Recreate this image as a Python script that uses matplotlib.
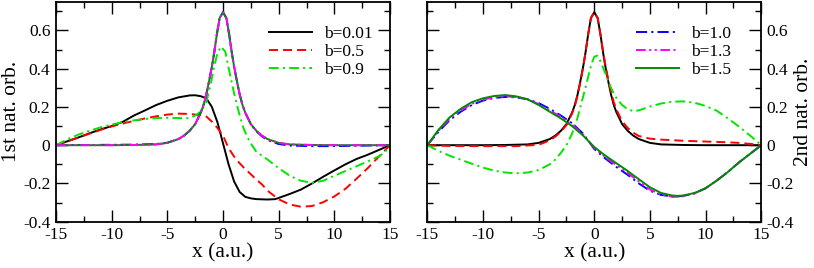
import numpy as np
import matplotlib
matplotlib.use("Agg")
import matplotlib.pyplot as plt
from matplotlib.ticker import MultipleLocator, FuncFormatter

plt.rcParams['font.family'] = ['Liberation Serif', 'DejaVu Serif']
plt.rcParams['axes.unicode_minus'] = False
plt.rcParams['lines.scale_dashes'] = False

# ---- valeurs ----
# pic symétrique (orbitale paire), partagé par plusieurs courbes
x_peak = [-15, -10, -8, -6, -5, -4, -3.5, -3, -2.5, -2, -1.75, -1.5, -1.25, -1, -0.8, -0.55, -0.3, 0,
          0.3, 0.55, 0.8, 1, 1.25, 1.5, 1.75, 2, 2.5, 3, 3.5, 4, 5, 6, 8, 10, 15]
y_peak = [0, 0, 0.001, 0.004, 0.012, 0.032, 0.05, 0.075, 0.11, 0.17, 0.21, 0.265, 0.335, 0.41, 0.48, 0.58, 0.665, 0.695,
          0.665, 0.58, 0.48, 0.41, 0.335, 0.265, 0.21, 0.17, 0.11, 0.075, 0.05, 0.032, 0.012, 0.004, 0.001, 0, 0]
y_peak_blue = [0, 0.002, 0.003, 0.006, 0.013, 0.032, 0.05, 0.075, 0.11, 0.17, 0.21, 0.265, 0.335, 0.41, 0.48, 0.58, 0.665, 0.695,
               0.665, 0.58, 0.48, 0.41, 0.335, 0.265, 0.21, 0.17, 0.11, 0.072, 0.046, 0.027, 0.006, -0.002, -0.005, -0.005, 0]

# 1ere orbitale naturelle (panneau gauche)
x1_b001 = [-15, -14, -13, -12, -11, -10, -9, -8, -7, -6, -5, -4, -3, -2.5, -2, -1.5, -1, -0.5, 0, 0.5,
           1, 1.5, 2, 2.5, 3, 4, 4.7, 6, 7, 8, 9, 10, 11, 12, 13, 14, 15]
y1_b001 = [0, 0.02, 0.04, 0.062, 0.082, 0.1, 0.122, 0.155, 0.182, 0.21, 0.232, 0.25, 0.26, 0.261, 0.256, 0.245, 0.2, 0.12, 0.01, -0.1,
           -0.19, -0.245, -0.27, -0.278, -0.282, -0.284, -0.282, -0.255, -0.232, -0.2, -0.165, -0.132, -0.1, -0.072, -0.05, -0.025, 0]

x1_b05 = [-15, -14, -13, -12, -11, -10, -9, -8, -7, -6, -5, -4, -3, -2, -1.5, -1, -0.5, 0, 0.5, 1,
          1.5, 2, 2.5, 3, 3.5, 4, 5, 6, 7, 8, 9, 10, 11, 12, 13, 14, 15]
y1_b05 = [0, 0.02, 0.04, 0.06, 0.08, 0.098, 0.113, 0.127, 0.14, 0.151, 0.16, 0.165, 0.163, 0.157, 0.15, 0.123, 0.09, 0.05, -0.015, -0.06,
          -0.095, -0.125, -0.152, -0.18, -0.205, -0.238, -0.283, -0.31, -0.322, -0.318, -0.298, -0.268, -0.228, -0.175, -0.12, -0.06, 0]

x1_b09 = [-15, -14, -13, -12, -11, -10, -9, -8, -7, -6, -5, -4, -3.5, -3, -2.5, -2, -1.5, -1.1, -0.8, -0.5, -0.2,
          0.2, 0.5, 1, 1.4, 1.8, 2.2, 2.6, 3, 4, 5, 6, 7, 8, 9, 10, 11, 12, 13, 14, 14.5, 15]
y1_b09 = [0, 0.03, 0.055, 0.075, 0.093, 0.108, 0.12, 0.13, 0.137, 0.142, 0.143, 0.142, 0.14, 0.142, 0.155, 0.175, 0.225, 0.32, 0.41, 0.48, 0.515,
          0.49, 0.404, 0.27, 0.177, 0.095, 0.04, 0.0, -0.035, -0.075, -0.12, -0.16, -0.186, -0.197, -0.186, -0.16, -0.135, -0.11, -0.085, -0.058, -0.04, 0]

# 2eme orbitale naturelle (panneau droit)
x2_b05 = [-15, -13, -10, -7, -5, -4, -3.5, -3, -2.5, -2, -1.75, -1.5, -1.25, -1, -0.8, -0.55, -0.3, 0,
          0.3, 0.55, 0.8, 1, 1.25, 1.5, 1.75, 2, 2.5, 3, 3.5, 4, 5, 6, 8, 10, 12, 13, 14, 15]
y2_b05 = [0, -0.004, -0.005, -0.005, 0.002, 0.025, 0.045, 0.07, 0.105, 0.165, 0.205, 0.26, 0.33, 0.41, 0.48, 0.58, 0.665, 0.695,
          0.665, 0.58, 0.485, 0.415, 0.345, 0.28, 0.225, 0.185, 0.125, 0.09, 0.065, 0.048, 0.034, 0.029, 0.023, 0.019, 0.015, 0.012, 0.007, 0]

x2_b09 = [-15, -14, -13, -12, -11, -10, -9, -8, -7, -6, -5, -4, -3.5, -3, -2.5, -2, -1.5, -1.25, -1, -0.75, -0.5, -0.25, 0,
          0.25, 0.5, 0.75, 1, 1.25, 1.5, 1.75, 2, 2.5, 3, 3.5, 4, 5, 6, 7, 8, 9, 10, 11, 12, 13, 14, 15]
y2_b09 = [0, -0.03, -0.055, -0.076, -0.097, -0.117, -0.133, -0.143, -0.147, -0.143, -0.13, -0.1, -0.075, -0.04, 0.0, 0.06, 0.145, 0.2, 0.255, 0.31, 0.37, 0.425, 0.462,
          0.468, 0.445, 0.41, 0.375, 0.335, 0.3, 0.27, 0.245, 0.21, 0.188, 0.178, 0.182, 0.202, 0.218, 0.227, 0.229, 0.222, 0.205, 0.18, 0.14, 0.097, 0.05, 0]

x2 = [-15, -14, -13, -12, -11, -10, -9, -8, -7, -6, -5, -4, -3, -2, -1, 0,
      1, 2, 3, 4, 5, 6, 7, 7.5, 8, 9, 10, 11, 12, 13, 14, 15]
y2_b10 = [0, 0.07, 0.13, 0.175, 0.21, 0.233, 0.247, 0.252, 0.25, 0.24, 0.22, 0.19, 0.155, 0.115, 0.06, -0.02,
          -0.07, -0.115, -0.155, -0.2, -0.238, -0.26, -0.268, -0.268, -0.265, -0.252, -0.225, -0.185, -0.14, -0.09, -0.045, 0]
y2_b13 = [0, 0.075, 0.137, 0.182, 0.216, 0.238, 0.25, 0.255, 0.252, 0.24, 0.215, 0.182, 0.148, 0.107, 0.055, -0.015,
          -0.062, -0.105, -0.145, -0.19, -0.232, -0.258, -0.27, -0.27, -0.267, -0.252, -0.225, -0.185, -0.14, -0.09, -0.045, 0]
y2_b15 = [0, 0.08, 0.145, 0.19, 0.225, 0.245, 0.257, 0.262, 0.255, 0.24, 0.21, 0.175, 0.14, 0.1, 0.05, -0.01,
          -0.055, -0.095, -0.135, -0.178, -0.22, -0.25, -0.263, -0.265, -0.263, -0.25, -0.225, -0.185, -0.14, -0.09, -0.045, 0]

labels_left = ["b=0.01", "b=0.5", "b=0.9"]
labels_right = ["b=1.0", "b=1.3", "b=1.5"]

# ---- styles ----
LW = 1.4
C_RED = '#ff0000'
C_LIME = '#00e600'
C_BLUE = '#0000ff'
C_MAG = '#ff00ff'
C_DKG = '#008b00'
D_RED = (0, (6.5, 3.6))
D_LIME = (0, (7, 3, 1.5, 3))
D_BLUE = (0, (8, 3, 1.5, 3))
D_MAG = (0, (7, 2.5, 1.5, 2.5, 1.5, 2.5))

fig = plt.figure(figsize=(8.14, 2.68), dpi=100)
ax1 = fig.add_axes([56/814, 1 - 221.7/268, 334/814, 220/268])
ax2 = fig.add_axes([427.3/814, 1 - 221.7/268, 334/814, 220/268])

# panneau gauche
ax1.plot(x1_b001, y1_b001, color='black', lw=LW, label=labels_left[0])
ax1.plot(x1_b05, y1_b05, color=C_RED, lw=LW, linestyle=D_RED, label=labels_left[1])
ax1.plot(x1_b09, y1_b09, color=C_LIME, lw=LW, linestyle=D_LIME, label=labels_left[2])
ax1.plot(x_peak, y_peak_blue, color=C_BLUE, lw=LW, linestyle=D_BLUE)
ax1.plot(x_peak, y_peak, color=C_DKG, lw=LW)
ax1.plot(x_peak, y_peak, color=C_MAG, lw=LW, linestyle=D_MAG)

# panneau droit
ax2.plot(x_peak, y_peak, color='black', lw=LW)
ax2.plot(x2_b05, y2_b05, color=C_RED, lw=LW, linestyle=D_RED)
ax2.plot(x2_b09, y2_b09, color=C_LIME, lw=LW, linestyle=D_LIME)
ax2.plot(x2, y2_b10, color=C_BLUE, lw=LW, linestyle=D_BLUE, label=labels_right[0])
ax2.plot(x2, y2_b13, color=C_MAG, lw=LW, linestyle=D_MAG, label=labels_right[1])
ax2.plot(x2, y2_b15, color=C_DKG, lw=LW, label=labels_right[2])

for ax in (ax1, ax2):
    ax.set_xlim(-15, 15)
    ax.set_ylim(-0.4, 0.75)
    ax.xaxis.set_major_locator(MultipleLocator(5))
    ax.xaxis.set_minor_locator(MultipleLocator(2.5))
    ax.yaxis.set_major_locator(MultipleLocator(0.2))
    ax.yaxis.set_minor_locator(MultipleLocator(0.1))
    ax.tick_params(which='both', direction='in', top=True, bottom=True, left=True, right=True,
                   labelsize=12.5, width=1.0, pad=4)
    ax.tick_params(which='major', length=8.5)
    ax.tick_params(which='minor', length=4.3)
    for s in ax.spines.values():
        s.set_linewidth(1.3)
    ax.set_xlabel("x (a.u.)", fontsize=15.5, labelpad=0)
    ax.xaxis.set_major_formatter(FuncFormatter(lambda v, p: f"{v:g}"))
    ax.yaxis.set_major_formatter(FuncFormatter(lambda v, p: "0" if abs(v) < 1e-9 else f"{v:.1f}"))

ax1.set_ylabel("1st nat. orb.", fontsize=15.5, labelpad=1.5)
ax2.yaxis.set_label_position('right')
ax2.yaxis.tick_right()
ax2.tick_params(which='both', left=True, right=True, labelleft=False, labelright=True)
ax2.set_ylabel("2nd nat. orb.", fontsize=15.5, labelpad=0)

leg_kw = dict(frameon=False, fontsize=12.5, handlelength=2.45, handletextpad=0.7,
              labelspacing=0.12, borderpad=0, borderaxespad=0, loc='upper left')
ax1.legend(bbox_to_anchor=(0.638, 0.892), **leg_kw)
ax2.legend(bbox_to_anchor=(0.626, 0.892), **leg_kw)

fig.savefig("out.png", dpi=100)
